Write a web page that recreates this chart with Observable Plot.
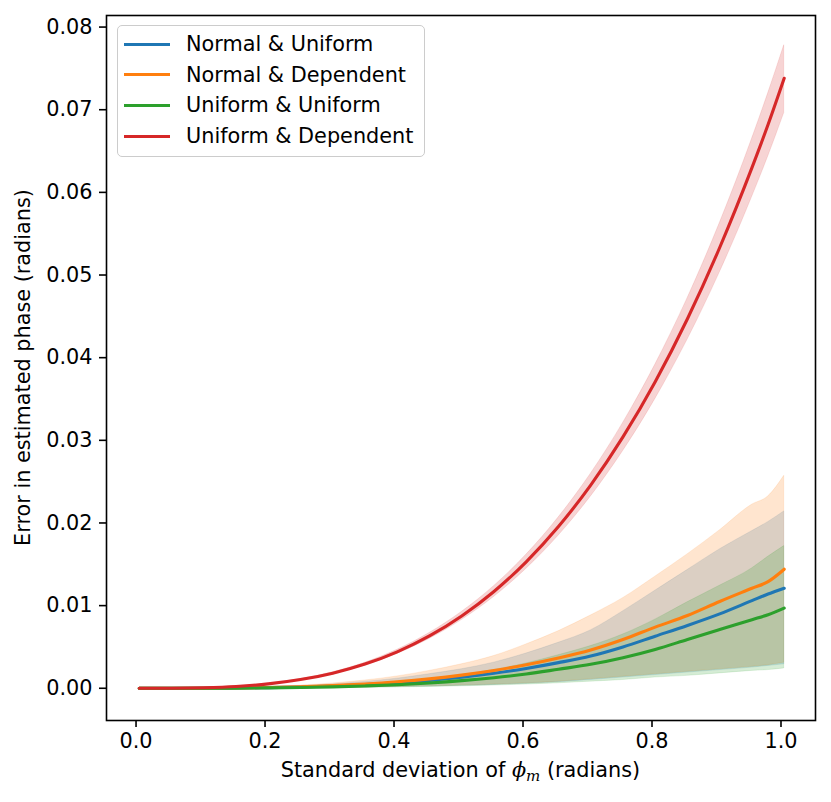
<!DOCTYPE html>
<html><head><meta charset="utf-8">
<script src="https://cdn.jsdelivr.net/npm/d3@7"></script>
<script src="https://cdn.jsdelivr.net/npm/@observablehq/plot@0.6"></script>
<style>
body{margin:0;background:#fff;}
#wrap{position:relative;width:831px;height:802px;font-family:"DejaVu Sans",sans-serif;}
#legend{position:absolute;left:117px;top:25px;width:306px;height:130px;border:1.5px solid #ccc;border-radius:5px;background:rgba(255,255,255,0.8);}
.row{position:absolute;left:0;height:30px;display:flex;align-items:center;font-size:20.8px;color:#000;white-space:nowrap;}
.sw{width:46px;height:3px;margin-left:6px;margin-right:16px;}
</style></head>
<body><div id="wrap"></div>
<script>
// x: standard deviation of phi_m (radians)
const sigma = [0.005, 0.055, 0.105, 0.155, 0.205, 0.255, 0.305, 0.355, 0.405, 0.455, 0.505, 0.555, 0.605, 0.655, 0.705, 0.755, 0.805, 0.855, 0.905, 0.955, 0.98, 1.005];

const seriesNames = ["Normal & Uniform", "Normal & Dependent", "Uniform & Uniform", "Uniform & Dependent"];
const seriesColors = ["#1f77b4", "#ff7f0e", "#2ca02c", "#d62728"];

// Normal & Uniform (blue)
const meanNU = [0, 0, 0.00001, 0.00003, 0.000075, 0.00015, 0.00027, 0.00044, 0.00066, 0.00096, 0.00134, 0.00182, 0.0024, 0.0031, 0.0039, 0.005, 0.0063, 0.0076, 0.009, 0.0106, 0.0114, 0.0121];
const hiNU   = [0, 0, 0.00002, 0.00005, 0.00013, 0.00027, 0.00047, 0.00077, 0.00116, 0.0017, 0.0023, 0.0031, 0.0042, 0.0055, 0.007, 0.0093, 0.0118, 0.0143, 0.0168, 0.019, 0.0201, 0.0214];
const loNU   = [0, 0, 0, 0.00001, 0.00002, 0.00004, 0.00006, 0.00009, 0.00014, 0.0002, 0.0003, 0.00041, 0.00055, 0.00074, 0.001, 0.0013, 0.0016, 0.0019, 0.0022, 0.0025, 0.0027, 0.0029];

// Normal & Dependent (orange)
const meanND = [0, 0, 0.00001, 0.00004, 0.00009, 0.00018, 0.00032, 0.00052, 0.00079, 0.00114, 0.00159, 0.00215, 0.00284, 0.00366, 0.00463, 0.0059, 0.0074, 0.0088, 0.0105, 0.0121, 0.0129, 0.0144];
const hiND   = [0, 0, 0.00002, 0.00007, 0.00016, 0.00033, 0.00058, 0.00094, 0.00143, 0.0021, 0.0029, 0.0039, 0.0053, 0.0069, 0.0088, 0.0109, 0.0135, 0.0162, 0.0191, 0.0222, 0.0232, 0.0257];
const loND   = [0, 0, 0, 0.00001, 0.00002, 0.00004, 0.00006, 0.0001, 0.00015, 0.00023, 0.00033, 0.00045, 0.0006, 0.0008, 0.0011, 0.0014, 0.0017, 0.002, 0.0023, 0.0026, 0.0028, 0.0031];

// Uniform & Uniform (green)
const meanUU = [0, 0, 0.000005, 0.00002, 0.00005, 0.0001, 0.00017, 0.00028, 0.00043, 0.00064, 0.00092, 0.00128, 0.00172, 0.0023, 0.0029, 0.0037, 0.0047, 0.0059, 0.0071, 0.0083, 0.0089, 0.0097];
const hiUU   = [0, 0, 0.00001, 0.00004, 0.00009, 0.00018, 0.0003, 0.00049, 0.00075, 0.0011, 0.0016, 0.0022, 0.003, 0.004, 0.0051, 0.0065, 0.0083, 0.0104, 0.0124, 0.0145, 0.0159, 0.0172];
const loUU   = [0, 0, 0, 0.00001, 0.00001, 0.00003, 0.00005, 0.00007, 0.00011, 0.00016, 0.00024, 0.00033, 0.00045, 0.0006, 0.0008, 0.001, 0.0013, 0.0015, 0.0018, 0.0021, 0.0022, 0.0024];

// Uniform & Dependent (red)
const meanUD = [0, 0.00001, 0.00007, 0.00022, 0.00053, 0.00105, 0.00183, 0.00293, 0.00441, 0.00633, 0.00875, 0.01171, 0.0153, 0.01957, 0.02458, 0.03041, 0.03709, 0.04471, 0.05333, 0.06299, 0.0682, 0.0738];
const hiUD   = [0, 0.00001, 0.00007, 0.00023, 0.00056, 0.00111, 0.00193, 0.00309, 0.00465, 0.00668, 0.00923, 0.01235, 0.01614, 0.02065, 0.02593, 0.03208, 0.03913, 0.04717, 0.05626, 0.06645, 0.07195, 0.0778];
const loUD   = [0, 0.00001, 0.00007, 0.00021, 0.0005, 0.00099, 0.00173, 0.00276, 0.00416, 0.00597, 0.00825, 0.01104, 0.01443, 0.01845, 0.02318, 0.02868, 0.03498, 0.04216, 0.05029, 0.0594, 0.06431, 0.0696];

const xTicks = [0, 0.2, 0.4, 0.6, 0.8, 1.0];
const yTicks = [0, 0.01, 0.02, 0.03, 0.04, 0.05, 0.06, 0.07, 0.08];
const xLabel = "Standard deviation of ";
const yLabel = "Error in estimated phase (radians)";

const seriesData = [
  {name: seriesNames[0], mean: meanNU, lo: loNU, hi: hiNU},
  {name: seriesNames[1], mean: meanND, lo: loND, hi: hiND},
  {name: seriesNames[2], mean: meanUU, lo: loUU, hi: hiUU},
  {name: seriesNames[3], mean: meanUD, lo: loUD, hi: hiUD}
];
const rows = [];
seriesData.forEach(s => sigma.forEach((x, i) => rows.push({series: s.name, x, mean: s.mean[i], lo: s.lo[i], hi: s.hi[i]})));

const plot = Plot.plot({
  width: 831, height: 802,
  marginLeft: 106, marginRight: 16, marginTop: 15, marginBottom: 82,
  style: {fontFamily: "DejaVu Sans", fontSize: "20.8px", color: "black", background: "white"},
  x: {domain: [-0.0458, 1.0535], label: null},
  y: {domain: [-0.0039, 0.0814], label: null},
  color: {domain: seriesNames, range: seriesColors},
  marks: [
    Plot.areaY(rows, {x: "x", y1: "lo", y2: "hi", z: "series", fill: "series", fillOpacity: 0.2,
      stroke: "series", strokeOpacity: 0.12, strokeWidth: 1, curve: "monotone-x"}),
    Plot.line(rows, {x: "x", y: "mean", z: "series", stroke: "series", strokeWidth: 3.1, curve: "monotone-x"}),
    Plot.axisX({ticks: xTicks, tickFormat: d3.format(".1f"), tickSize: 7, tickPadding: 6, strokeWidth: 1.6, label: null}),
    Plot.axisY({ticks: yTicks, tickFormat: d3.format(".2f"), tickSize: 7, tickPadding: 7, strokeWidth: 1.6, label: null}),
    Plot.frame({stroke: "black", strokeWidth: 1.6})
  ]
});

const wrap = document.getElementById("wrap");
wrap.appendChild(plot);

const svg = d3.select(plot);
const xt = svg.append("text")
  .attr("x", 460.5).attr("y", 777)
  .attr("text-anchor", "middle")
  .attr("font-family", "DejaVu Sans").attr("font-size", "20.8px").attr("fill", "black");
xt.append("tspan").text(xLabel);
xt.append("tspan").attr("font-family", "DejaVu Serif").attr("font-style", "italic").text("ϕ");
xt.append("tspan").attr("font-family", "DejaVu Serif").attr("font-style", "italic").attr("font-size", "15px").attr("dy", "4").text("m");
xt.append("tspan").attr("dy", "-4").text(" (radians)");

svg.append("text")
  .attr("transform", "translate(30,367.5) rotate(-90)")
  .attr("text-anchor", "middle")
  .attr("font-family", "DejaVu Sans").attr("font-size", "20.8px").attr("fill", "black")
  .text(yLabel);

// legend overlay inside the axes
const legend = document.createElement("div");
legend.id = "legend";
seriesNames.forEach((n, i) => {
  const row = document.createElement("div");
  row.className = "row";
  row.style.top = (3 + 30.7 * i) + "px";
  const sw = document.createElement("span");
  sw.className = "sw";
  sw.style.background = seriesColors[i];
  const t = document.createElement("span");
  t.textContent = n;
  row.appendChild(sw); row.appendChild(t);
  legend.appendChild(row);
});
wrap.appendChild(legend);
</script>
</body></html>
